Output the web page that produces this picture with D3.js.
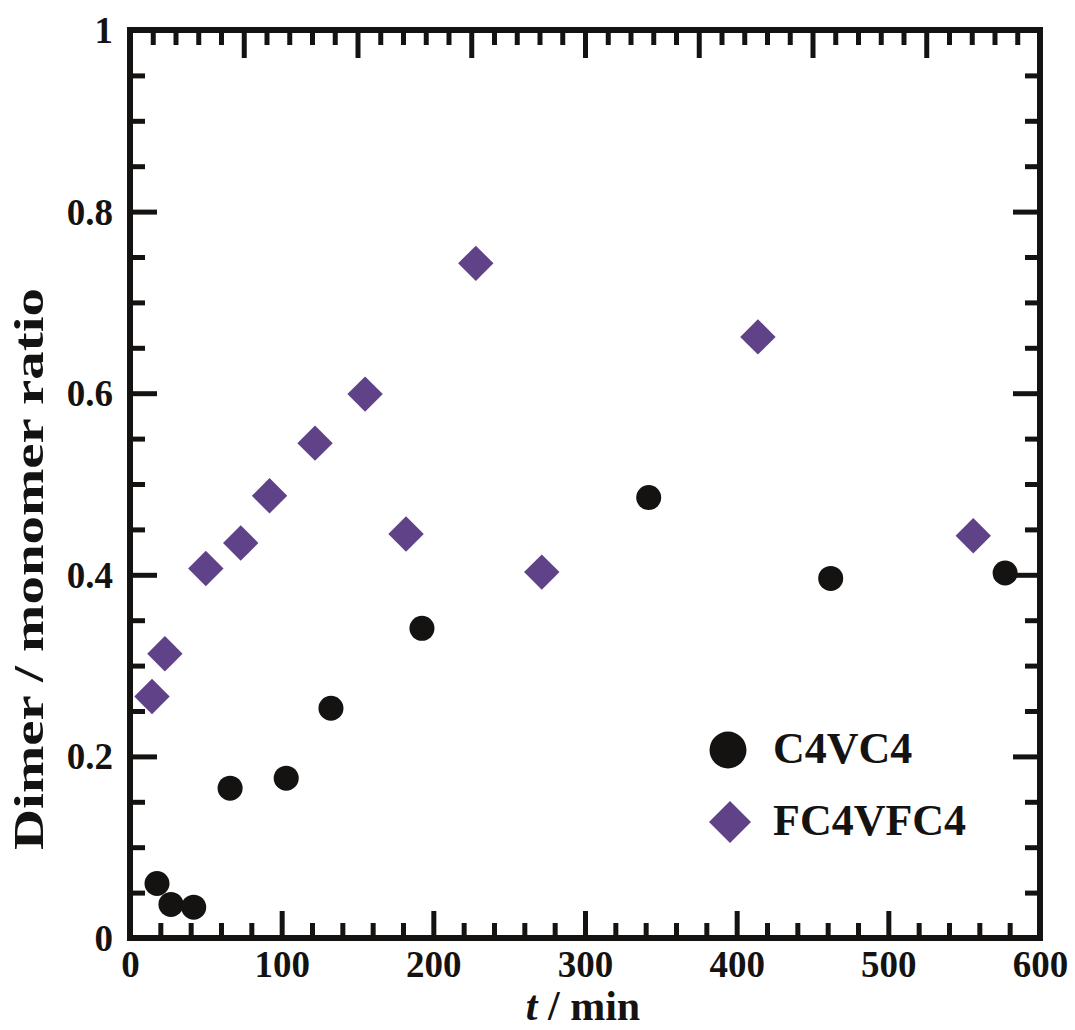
<!DOCTYPE html>
<html>
<head>
<meta charset="utf-8">
<script src="https://cdn.jsdelivr.net/npm/d3@7"></script>
<style>
  html, body { margin: 0; padding: 0; background: #fff; }
  svg { display: block; }
  text { font-family: "Liberation Serif", "Times New Roman", serif; font-weight: bold; fill: #151311; }
</style>
</head>
<body>
<svg id="chart" width="1075" height="1030"></svg>
<script>
// C4VC4 series: time (min) and dimer/monomer ratio
const c4Time  = [17.8, 27, 42, 66, 103, 132.5, 192.5, 342, 462, 577];
const c4Ratio = [0.060, 0.037, 0.034, 0.165, 0.176, 0.253, 0.341, 0.485, 0.396, 0.402];

// FC4VFC4 series
const fc4Time  = [14.5, 23, 50, 73, 92, 122, 155, 182, 228, 271.5, 414, 556];
const fc4Ratio = [0.266, 0.313, 0.407, 0.435, 0.487, 0.545, 0.599, 0.445, 0.743, 0.403, 0.662, 0.443];

const seriesNames = ["C4VC4", "FC4VFC4"];
const xTickValues = [0, 100, 200, 300, 400, 500, 600];
const yTickValues = [0, 0.2, 0.4, 0.6, 0.8, 1];
const xTitle = ["t", " / min"];
const yTitle = "Dimer / monomer ratio";

const INK = "#151311";
const PURPLE = "#5f4288";

const svg = d3.select("#chart");
const plotLeft = 130, plotRight = 1040, plotTop = 30, plotBottom = 938;

const x = d3.scaleLinear().domain([0, 600]).range([plotLeft, plotRight]);
const y = d3.scaleLinear().domain([0, 1]).range([plotBottom, plotTop]);
// the upper frame carries its own evenly spaced ticks (8 major divisions)
const xTop = d3.scaleLinear().domain([0, 8]).range([plotLeft, plotRight]);

function styleAxis(g, width) {
  g.select(".domain").remove();
  g.selectAll(".tick line").attr("stroke", INK).attr("stroke-width", width);
}

const xMinor = d3.range(0, 601, 20).filter(v => v % 100 !== 0);
const yMinor = d3.range(0, 1.0001, 0.05).map(v => +v.toFixed(2)).filter(v => Math.round(v * 100) % 20 !== 0);
const topMinor = d3.range(0, 8.001, 0.2).map(v => +v.toFixed(1)).filter(v => Math.abs(v - Math.round(v)) > 1e-6);

// bottom axis
svg.append("g").attr("transform", `translate(0,${plotBottom})`)
  .call(d3.axisBottom(x).tickValues(xMinor).tickSize(-15).tickFormat(""))
  .call(g => styleAxis(g, 5));
const xAxis = svg.append("g").attr("transform", `translate(0,${plotBottom})`)
  .call(d3.axisBottom(x).tickValues(xTickValues).tickSize(-27).tickPadding(0).tickFormat(d3.format("d")))
  .call(g => styleAxis(g, 5));
xAxis.selectAll(".tick text").attr("y", 39).attr("dy", 0).attr("font-size", 37).attr("fill", INK);

// top axis
svg.append("g").attr("transform", `translate(0,${plotTop})`)
  .call(d3.axisTop(xTop).tickValues(topMinor).tickSize(-15).tickFormat(""))
  .call(g => styleAxis(g, 5));
svg.append("g").attr("transform", `translate(0,${plotTop})`)
  .call(d3.axisTop(xTop).tickValues(d3.range(1, 8)).tickSize(-28).tickFormat(""))
  .call(g => styleAxis(g, 5));

// left axis
svg.append("g").attr("transform", `translate(${plotLeft},0)`)
  .call(d3.axisLeft(y).tickValues(yMinor).tickSize(-15).tickFormat(""))
  .call(g => styleAxis(g, 5));
const yAxis = svg.append("g").attr("transform", `translate(${plotLeft},0)`)
  .call(d3.axisLeft(y).tickValues(yTickValues).tickSize(-27).tickPadding(0)
    .tickFormat(d => (d === 0 || d === 1) ? String(d) : d.toFixed(1)))
  .call(g => styleAxis(g, 5));
yAxis.selectAll(".tick text").attr("x", -17).attr("dy", "0.34em").attr("font-size", 37).attr("fill", INK);

// right axis
svg.append("g").attr("transform", `translate(${plotRight},0)`)
  .call(d3.axisRight(y).tickValues(yMinor).tickSize(-15).tickFormat(""))
  .call(g => styleAxis(g, 5));
svg.append("g").attr("transform", `translate(${plotRight},0)`)
  .call(d3.axisRight(y).tickValues(yTickValues).tickSize(-27).tickFormat(""))
  .call(g => styleAxis(g, 5));

// frame
svg.append("rect")
  .attr("x", plotLeft).attr("y", plotTop)
  .attr("width", plotRight - plotLeft).attr("height", plotBottom - plotTop)
  .attr("fill", "none").attr("stroke", INK).attr("stroke-width", 6);

// data markers
const fc4 = fc4Time.map((t, i) => ({ t, r: fc4Ratio[i] }));
const c4 = c4Time.map((t, i) => ({ t, r: c4Ratio[i] }));

function diamondPath(half) {
  return `M0,${-half}L${half},0L0,${half}L${-half},0Z`;
}

svg.append("g").selectAll("path").data(fc4).join("path")
  .attr("d", diamondPath(17.7))
  .attr("transform", d => `translate(${x(d.t)},${y(d.r)})`)
  .attr("fill", PURPLE);

svg.append("g").selectAll("circle").data(c4).join("circle")
  .attr("cx", d => x(d.t)).attr("cy", d => y(d.r)).attr("r", 12.5)
  .attr("fill", INK);

// legend
const legend = svg.append("g");
legend.append("circle").attr("cx", 728).attr("cy", 750).attr("r", 18.5).attr("fill", INK);
legend.append("text").attr("x", 773).attr("y", 763).attr("font-size", 44).text(seriesNames[0]);
legend.append("path").attr("d", diamondPath(21)).attr("transform", "translate(730,822)").attr("fill", PURPLE);
legend.append("text").attr("x", 773).attr("y", 835).attr("font-size", 44).text(seriesNames[1]);

// axis titles
const xt = svg.append("text").attr("x", (plotLeft + plotRight) / 2 - 2).attr("y", 1020)
  .attr("text-anchor", "middle").attr("font-size", 42);
xt.append("tspan").attr("font-style", "italic").text(xTitle[0]);
xt.append("tspan").text(xTitle[1]);

svg.append("text")
  .attr("transform", "translate(43,569) rotate(-90)")
  .attr("text-anchor", "middle").attr("font-size", 42)
  .attr("textLength", 562).attr("lengthAdjust", "spacingAndGlyphs")
  .text(yTitle);
</script>
</body>
</html>
